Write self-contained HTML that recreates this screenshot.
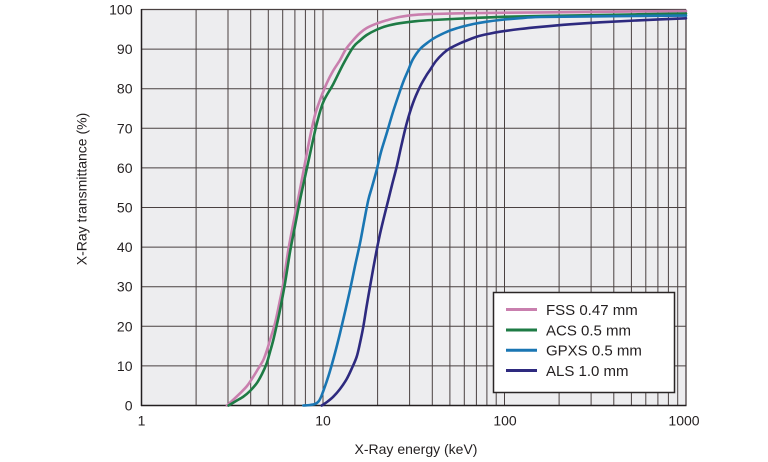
<!DOCTYPE html>
<html>
<head>
<meta charset="utf-8">
<style>
html,body{margin:0;padding:0;background:#fff;}
svg{display:block;}
text{font-family:"Liberation Sans",Arial,sans-serif;fill:#231f20;}
</style>
</head>
<body>
<svg id="chart" width="768" height="462" viewBox="0 0 768 462" xmlns="http://www.w3.org/2000/svg">
  <!-- plot background -->
  <rect x="141.5" y="9.5" width="544.5" height="396" fill="#ededef"/>
  <!-- vertical grid -->
  <g stroke="#4a4141" stroke-width="1">
    <line x1="196.1" y1="9.5" x2="196.1" y2="405.5"/>
    <line x1="228.0" y1="9.5" x2="228.0" y2="405.5"/>
    <line x1="250.7" y1="9.5" x2="250.7" y2="405.5"/>
    <line x1="268.3" y1="9.5" x2="268.3" y2="405.5"/>
    <line x1="282.7" y1="9.5" x2="282.7" y2="405.5"/>
    <line x1="294.9" y1="9.5" x2="294.9" y2="405.5"/>
    <line x1="305.4" y1="9.5" x2="305.4" y2="405.5"/>
    <line x1="314.7" y1="9.5" x2="314.7" y2="405.5"/>
    <line x1="323.0" y1="9.5" x2="323.0" y2="405.5"/>
    <line x1="377.6" y1="9.5" x2="377.6" y2="405.5"/>
    <line x1="409.6" y1="9.5" x2="409.6" y2="405.5"/>
    <line x1="432.3" y1="9.5" x2="432.3" y2="405.5"/>
    <line x1="449.9" y1="9.5" x2="449.9" y2="405.5"/>
    <line x1="464.3" y1="9.5" x2="464.3" y2="405.5"/>
    <line x1="476.4" y1="9.5" x2="476.4" y2="405.5"/>
    <line x1="486.9" y1="9.5" x2="486.9" y2="405.5"/>
    <line x1="496.2" y1="9.5" x2="496.2" y2="405.5"/>
    <line x1="504.5" y1="9.5" x2="504.5" y2="405.5"/>
    <line x1="559.1" y1="9.5" x2="559.1" y2="405.5"/>
    <line x1="591.1" y1="9.5" x2="591.1" y2="405.5"/>
    <line x1="613.8" y1="9.5" x2="613.8" y2="405.5"/>
    <line x1="631.4" y1="9.5" x2="631.4" y2="405.5"/>
    <line x1="645.8" y1="9.5" x2="645.8" y2="405.5"/>
    <line x1="657.9" y1="9.5" x2="657.9" y2="405.5"/>
    <line x1="668.4" y1="9.5" x2="668.4" y2="405.5"/>
    <line x1="677.7" y1="9.5" x2="677.7" y2="405.5"/>
    <line x1="686.0" y1="9.5" x2="686.0" y2="405.5" stroke-width="1.3"/>
  </g>
  <!-- horizontal grid -->
  <g stroke="#4a4141" stroke-width="1">
    <line x1="141.5" y1="9.5" x2="686" y2="9.5" stroke-width="1.3"/>
    <line x1="141.5" y1="49.1" x2="686" y2="49.1"/>
    <line x1="141.5" y1="88.7" x2="686" y2="88.7"/>
    <line x1="141.5" y1="128.3" x2="686" y2="128.3"/>
    <line x1="141.5" y1="167.9" x2="686" y2="167.9"/>
    <line x1="141.5" y1="207.5" x2="686" y2="207.5"/>
    <line x1="141.5" y1="247.1" x2="686" y2="247.1"/>
    <line x1="141.5" y1="286.7" x2="686" y2="286.7"/>
    <line x1="141.5" y1="326.3" x2="686" y2="326.3"/>
    <line x1="141.5" y1="365.9" x2="686" y2="365.9"/>
  </g>
  <!-- axes -->
  <line x1="141.5" y1="9" x2="141.5" y2="406" stroke="#231f20" stroke-width="1.5"/>
  <line x1="141" y1="405.5" x2="686.5" y2="405.5" stroke="#231f20" stroke-width="1.5"/>

  <!-- curves -->
  <g id="curves" fill="none" stroke-width="2.6" stroke-linejoin="round" stroke-linecap="round">
    <!-- FSS pink -->
    <polyline stroke="#c97fae" points="227,405.5 233,400 240,393.3 247,386 253.3,376.7 258,369 263.3,360 267,350 270,340 275,323.3 280,300 283.3,283.3 288.3,250 293.3,223.3 298.3,198 303.3,172 310,137 315,115 320,100 326.7,83.3 333,71 340,60 346,49 353.3,40 360,33 366.7,28 376,23.8 386.7,20.3 400,16.9 416,14.8 433,14 466.7,13.2 500,12.8 540,12.4 600,11.8 686,11"/>
    <!-- ACS green -->
    <polyline stroke="#1e7b45" points="228.5,405.5 236,401 243.3,396.7 250,391 256.7,383.3 262,374 266.7,363.3 270,352 273.3,340 277,324 280,310 285,283.3 290,252 295,226 300,200 305,177 310,154 316.7,124 323.3,102 333.3,84 343.3,64 353.3,47 360,40.5 366.7,35 376,30 386.7,26 400,23.2 416,21.2 433,20 466.7,18.3 500,16.9 540,16 600,15 686,13.5"/>
    <!-- GPXS blue -->
    <polyline stroke="#1a76b3" points="303.3,405.5 310,405 315,404 318.5,401.5 321,397 323.3,391 326.5,382 330,371 335,353 340,333.3 345,312 350,290 355,266 360,243.3 364,222 368.3,200 372,187 376.7,170 381,152 386.7,133.3 393,112 400,91 404,80 408.3,70 412,61 416.7,53.3 421,48 426.7,43.3 433,38.8 440,35 448,31.3 456.7,28.3 465,26 473.3,24 486,21.8 500,20 520,18.2 540,17 600,16.3 686,15.6"/>
    <!-- ALS purple -->
    <polyline stroke="#2e2a7f" points="321.7,405.5 327,402 333.3,396.7 340,389 346.7,379 352,368 356.7,356.7 360,343 363.3,326.7 366.5,307 370,286.7 373.5,267 376.7,250 380,234 383.3,220 388.3,200 392,185 396.7,166.7 401.5,145 406.7,123.3 413,103 420,86.7 426,76 430,70 436,61 443.3,53.3 450,48.3 460,43.3 468,40 476.7,36.7 488,34 500,31.7 520,29 540,26.9 570,24.3 600,22.3 640,20.3 686,18.3"/>
  </g>

  <!-- y tick labels -->
  <g font-size="14" text-anchor="end">
    <text x="132.5" y="14.5">100</text>
    <text x="132.5" y="54.1">90</text>
    <text x="132.5" y="93.7">80</text>
    <text x="132.5" y="133.3">70</text>
    <text x="132.5" y="172.9">60</text>
    <text x="132.5" y="212.5">50</text>
    <text x="132.5" y="252.1">40</text>
    <text x="132.5" y="291.7">30</text>
    <text x="132.5" y="331.3">20</text>
    <text x="132.5" y="370.9">10</text>
    <text x="132.5" y="410.5">0</text>
  </g>
  <!-- x tick labels -->
  <g font-size="14" text-anchor="middle">
    <text x="141.5" y="425.5">1</text>
    <text x="323" y="425.5">10</text>
    <text x="505" y="425.5">100</text>
    <text x="684" y="425.5">1000</text>
  </g>
  <!-- axis titles -->
  <text x="416" y="454" font-size="14" text-anchor="middle">X-Ray energy (keV)</text>
  <text transform="translate(86.5,189) rotate(-90)" font-size="14" text-anchor="middle">X-Ray transmittance (%)</text>

  <!-- legend -->
  <rect x="493.5" y="292.5" width="181" height="100" fill="#ffffff" stroke="#2a2626" stroke-width="1.5"/>
  <g stroke-width="3">
    <line x1="506" y1="309.5" x2="537" y2="309.5" stroke="#c97fae"/>
    <line x1="506" y1="330" x2="537" y2="330" stroke="#1e7b45"/>
    <line x1="506" y1="350.3" x2="537" y2="350.3" stroke="#1a76b3"/>
    <line x1="506" y1="370.5" x2="537" y2="370.5" stroke="#2e2a7f"/>
  </g>
  <g font-size="15">
    <text x="546" y="314.8">FSS 0.47 mm</text>
    <text x="546" y="335.3">ACS 0.5 mm</text>
    <text x="546" y="355.6">GPXS 0.5 mm</text>
    <text x="546" y="375.8">ALS 1.0 mm</text>
  </g>
</svg>
<script>
(function(){
  var NS="http://www.w3.org/2000/svg";
  var g=document.getElementById("curves");
  var pls=g.querySelectorAll("polyline");
  for(var i=0;i<pls.length;i++){
    var pl=pls[i];
    var pts=pl.getAttribute("points").trim().split(/\s+/).map(function(s){var a=s.split(",");return [parseFloat(a[0]),parseFloat(a[1])];});
    var d="M"+pts[0][0]+","+pts[0][1];
    for(var k=0;k<pts.length-1;k++){
      var p0=pts[k-1]||pts[k], p1=pts[k], p2=pts[k+1], p3=pts[k+2]||pts[k+1];
      var t=1/6;
      var c1x=p1[0]+(p2[0]-p0[0])*t, c1y=p1[1]+(p2[1]-p0[1])*t;
      var c2x=p2[0]-(p3[0]-p1[0])*t, c2y=p2[1]-(p3[1]-p1[1])*t;
      d+=" C"+c1x.toFixed(2)+","+c1y.toFixed(2)+" "+c2x.toFixed(2)+","+c2y.toFixed(2)+" "+p2[0]+","+p2[1];
    }
    var path=document.createElementNS(NS,"path");
    path.setAttribute("d",d);
    path.setAttribute("stroke",pl.getAttribute("stroke"));
    g.replaceChild(path,pl);
  }
})();
</script>
</body>
</html>
